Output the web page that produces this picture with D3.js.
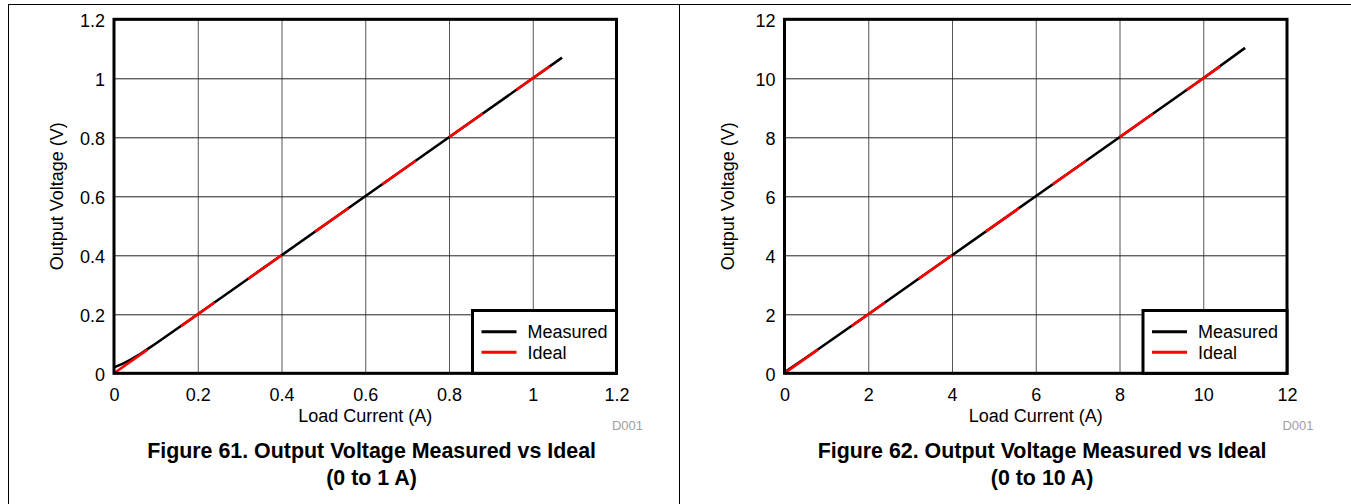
<!DOCTYPE html>
<html>
<head>
<meta charset="utf-8">
<script src="https://cdn.jsdelivr.net/npm/d3@7/dist/d3.min.js"></script>
<style>
  html, body { margin: 0; padding: 0; background: #fff; }
  svg { display: block; }
  text { font-family: "Liberation Sans", Arial, sans-serif; fill: #000; }
</style>
</head>
<body>
<svg id="chart" width="1351" height="504"></svg>
<script>
// ---- Data ----
// Figure 61 (0 to 1 A)
const measured1X = [0, 0.02, 0.04, 0.06, 0.08, 0.1, 0.2, 0.4, 0.6, 0.8, 1.0, 1.07];
const measured1Y = [0.02, 0.032, 0.046, 0.063, 0.082, 0.101, 0.2, 0.4, 0.6, 0.8, 1.0, 1.07];
const ideal1X = [0, 1.05];
const ideal1Y = [0, 1.05];
const ticks1 = [0, 0.2, 0.4, 0.6, 0.8, 1, 1.2];
const tickLabels1 = ["0", "0.2", "0.4", "0.6", "0.8", "1", "1.2"];

// Figure 62 (0 to 10 A)
const measured2X = [0, 0.5, 1, 2, 4, 6, 8, 10, 11];
const measured2Y = [0.03, 0.52, 1.01, 2.0, 4.0, 6.0, 8.0, 10.0, 11.03];
const ideal2X = [0, 10.5];
const ideal2Y = [0, 10.5];
const ticks2 = [0, 2, 4, 6, 8, 10, 12];
const tickLabels2 = ["0", "2", "4", "6", "8", "10", "12"];

const seriesNames = ["Measured", "Ideal"];
const seriesColors = ["#000000", "#ff0000"];
const xTitle = "Load Current (A)";
const yTitle = "Output Voltage (V)";
const figTitles1 = ["Figure 61. Output Voltage Measured vs Ideal", "(0 to 1 A)"];
const figTitles2 = ["Figure 62. Output Voltage Measured vs Ideal", "(0 to 10 A)"];
const codeLabel = "D001";

// ---- Drawing ----
const svg = d3.select("#chart");

// outer frame
svg.append("line").attr("x1", 8).attr("x2", 1351).attr("y1", 4.5).attr("y2", 4.5).attr("stroke", "#000").attr("stroke-width", 1);
svg.append("line").attr("x1", 8.5).attr("x2", 8.5).attr("y1", 4).attr("y2", 504).attr("stroke", "#000").attr("stroke-width", 1);
svg.append("line").attr("x1", 679.5).attr("x2", 679.5).attr("y1", 4).attr("y2", 504).attr("stroke", "#000").attr("stroke-width", 1);

function panel(ox, mx, my, ix, iy, ticks, tickLabels, titles) {
  const left = 114 + ox, right = 616.5 + ox, top = 19.3, bottom = 373.3;
  const x = d3.scaleLinear().domain([ticks[0], ticks[ticks.length - 1]]).range([left, right]);
  const y = d3.scaleLinear().domain([ticks[0], ticks[ticks.length - 1]]).range([bottom, top]);
  const g = svg.append("g");

  // grid
  g.append("g").attr("transform", `translate(0,${bottom})`)
    .call(d3.axisBottom(x).tickValues(ticks).tickSize(-(bottom - top)).tickFormat(""))
    .call(a => a.select(".domain").remove())
    .call(a => a.selectAll("line").attr("stroke", "#555").attr("stroke-width", 1));
  g.append("g").attr("transform", `translate(${left},0)`)
    .call(d3.axisLeft(y).tickValues(ticks).tickSize(-(right - left)).tickFormat(""))
    .call(a => a.select(".domain").remove())
    .call(a => a.selectAll("line").attr("stroke", "#222").attr("stroke-width", 1));

  // tick labels
  g.append("g").attr("transform", `translate(0,${bottom})`)
    .call(d3.axisBottom(x).tickValues(ticks).tickSize(0).tickPadding(0).tickFormat((d, i) => tickLabels[i]))
    .call(a => a.select(".domain").remove())
    .call(a => a.selectAll("text").attr("y", 28).attr("dy", null)
      .attr("font-size", 18).attr("font-family", "Liberation Sans, Arial, sans-serif").attr("fill", "#000"));
  g.append("g").attr("transform", `translate(${left},0)`)
    .call(d3.axisLeft(y).tickValues(ticks).tickSize(0).tickPadding(9).tickFormat((d, i) => tickLabels[i]))
    .call(a => a.select(".domain").remove())
    .call(a => a.selectAll("text").attr("dy", "0.40em")
      .attr("font-size", 18).attr("font-family", "Liberation Sans, Arial, sans-serif").attr("fill", "#000"));

  // lines
  const line = d3.line().x(d => x(d[0])).y(d => y(d[1]));
  const mData = mx.map((v, i) => [v, my[i]]);
  const iData = ix.map((v, i) => [v, iy[i]]);
  g.append("path").datum(mData).attr("d", line).attr("fill", "none")
    .attr("stroke", seriesColors[0]).attr("stroke-width", 2.6);
  g.append("path").datum(iData).attr("d", line).attr("fill", "none")
    .attr("stroke", seriesColors[1]).attr("stroke-width", 2.6).attr("stroke-dasharray", "41,41");

  // plot border
  g.append("rect").attr("x", left).attr("y", top).attr("width", right - left).attr("height", bottom - top)
    .attr("fill", "none").attr("stroke", "#000").attr("stroke-width", 3);

  // legend
  const lx = 472.5 + ox, ly = 310.5;
  g.append("rect").attr("x", lx).attr("y", ly).attr("width", right - lx).attr("height", bottom - ly)
    .attr("fill", "#fff").attr("stroke", "#000").attr("stroke-width", 3);
  seriesNames.forEach((name, i) => {
    const yy = 331.7 + i * 20.6;
    g.append("line").attr("x1", lx + 9).attr("x2", lx + 44).attr("y1", yy).attr("y2", yy)
      .attr("stroke", seriesColors[i]).attr("stroke-width", 3);
    g.append("text").attr("x", lx + 55).attr("y", yy).attr("dy", "0.36em")
      .attr("font-size", 18).text(name);
  });

  // axis titles
  g.append("text").attr("x", (left + right) / 2).attr("y", 422).attr("text-anchor", "middle")
    .attr("font-size", 18).text(xTitle);
  g.append("text").attr("transform", `translate(${63 + ox},${(top + bottom) / 2}) rotate(-90)`)
    .attr("text-anchor", "middle").attr("font-size", 18).text(yTitle);

  // code label
  g.append("text").attr("x", 643 + ox).attr("y", 430).attr("text-anchor", "end")
    .attr("font-size", 13).style("fill", "#a0a0a0").text(codeLabel);

  // figure titles
  titles.forEach((t, i) => {
    g.append("text").attr("x", 371.6 + ox).attr("y", 457.5 + i * 27).attr("text-anchor", "middle")
      .attr("font-size", 21.4).attr("font-weight", "bold").text(t);
  });
}

panel(0, measured1X, measured1Y, ideal1X, ideal1Y, ticks1, tickLabels1, figTitles1);
panel(670.5, measured2X, measured2Y, ideal2X, ideal2Y, ticks2, tickLabels2, figTitles2);
</script>
</body>
</html>
